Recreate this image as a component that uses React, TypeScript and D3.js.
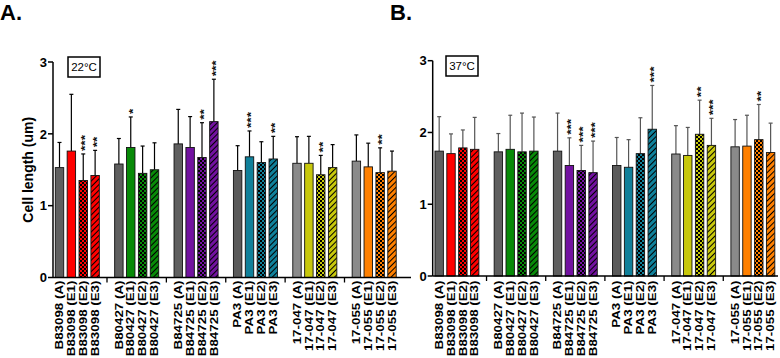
import React from "react";
import * as d3 from "d3";

const strains = ["B83098", "B80427", "B84725", "PA3", "17-047", "17-055"];
const variants = ["(A)", "(E1)", "(E2)", "(E3)"];
const colors = ["#ff0000", "#088a08", "#7212a0", "#10809a", "#c8c80c", "#ff8000"];
const grays = ["#5f5f5f", "#5f5f5f", "#5f5f5f", "#5a5a5a", "#8a8a8a", "#8a8a8a"];
const yTicks = [0, 1, 2, 3];

// Panel A (22°C)
const meanA = [
  [1.53, 1.76, 1.35, 1.42],
  [1.58, 1.81, 1.45, 1.5],
  [1.86, 1.81, 1.67, 2.17],
  [1.49, 1.68, 1.6, 1.65],
  [1.59, 1.59, 1.43, 1.53],
  [1.62, 1.54, 1.46, 1.48],
];
const sdA = [
  [0.35, 0.79, 0.37, 0.35],
  [0.355, 0.425, 0.38, 0.375],
  [0.48, 0.43, 0.485, 0.59],
  [0.345, 0.36, 0.29, 0.315],
  [0.37, 0.375, 0.27, 0.32],
  [0.365, 0.33, 0.345, 0.28],
];
const starsA = [
  ["", "", "***", "**"],
  ["", "*", "", ""],
  ["", "", "**", "***"],
  ["", "***", "", "**"],
  ["", "", "**", ""],
  ["", "", "**", ""],
];

// Panel B (37°C)
const meanB = [
  [1.74, 1.705, 1.785, 1.765],
  [1.73, 1.765, 1.73, 1.74],
  [1.74, 1.54, 1.47, 1.44],
  [1.54, 1.515, 1.705, 2.045],
  [1.7, 1.68, 1.975, 1.82],
  [1.8, 1.81, 1.9, 1.72],
];
const sdB = [
  [0.48, 0.275, 0.25, 0.445],
  [0.255, 0.475, 0.54, 0.475],
  [0.53, 0.385, 0.35, 0.44],
  [0.39, 0.385, 0.5, 0.61],
  [0.395, 0.39, 0.475, 0.377],
  [0.38, 0.43, 0.49, 0.41],
];
const starsB = [
  ["", "", "", ""],
  ["", "", "", ""],
  ["", "***", "***", "***"],
  ["", "", "", "***"],
  ["", "", "**", "***"],
  ["", "", "**", ""],
];

const FONT = "'Liberation Sans', Arial, Helvetica, sans-serif";

type PanelProps = {
  id: string;
  letter: string;
  letterX: number;
  temp: string;
  boxX: number;
  boxY: number;
  axisX: number;
  xStart: number;
  xEnd: number;
  axisEnd: number;
  y0: number;
  y3: number;
  means: number[][];
  sds: number[][];
  stars: string[][];
  errColor: string;
  yLabel: boolean;
};

function Panel(p: PanelProps) {
  const y = d3.scaleLinear().domain([0, 3]).range([p.y0, p.y3]);
  const slots = d3.range(29);
  const x = d3.scaleBand<number>().domain(slots).range([p.xStart, p.xEnd]).paddingInner(0.29).paddingOuter(0.15);
  const bw = x.bandwidth();
  const bars: any[] = [];
  strains.forEach((s, g) => {
    variants.forEach((v, i) => {
      bars.push({ g, i, s, v, slot: g * 5 + i, mean: p.means[g][i], sd: p.sds[g][i], star: p.stars[g][i] });
    });
  });
  const fillFor = (g: number, i: number) => {
    if (i === 0) return grays[g];
    if (i === 1) return colors[g];
    if (i === 2) return `url(#${p.id}chk${g})`;
    return `url(#${p.id}hat${g})`;
  };
  const gapTicks = [0, 1, 2, 3, 4].map((g) => x(g * 5 + 4)! + bw / 2);
  return (
    <g>
      <defs>
        {colors.map((c, g) => (
          <React.Fragment key={g}>
            <pattern id={`${p.id}chk${g}`} patternUnits="userSpaceOnUse" width={4} height={4}>
              <rect width={4} height={4} fill={c} />
              <rect width={2} height={2} fill="#000" />
              <rect x={2} y={2} width={2} height={2} fill="#000" />
            </pattern>
            <pattern id={`${p.id}hat${g}`} patternUnits="userSpaceOnUse" width={4} height={4} patternTransform="rotate(45)">
              <rect width={4} height={4} fill={c} />
              <line x1={0.5} y1={0} x2={0.5} y2={4} stroke="#000" strokeWidth={1} />
            </pattern>
          </React.Fragment>
        ))}
      </defs>
      <text x={p.letterX} y={20} fontFamily={FONT} fontWeight="bold" fontSize={22}>{p.letter}</text>
      {bars.map((b, k) => {
        const x0 = x(b.slot)!;
        const yt = y(b.mean);
        const ye = y(b.mean + b.sd);
        const xc = x0 + bw / 2;
        return (
          <g key={k}>
            <line x1={xc} x2={xc} y1={yt} y2={ye} stroke={p.errColor} strokeWidth={1.2} />
            <line x1={xc - 2} x2={xc + 2} y1={ye} y2={ye} stroke={p.errColor} strokeWidth={1.2} />
            <rect x={x0} y={yt} width={bw} height={p.y0 - yt} fill={fillFor(b.g, b.i)} stroke="#111" strokeWidth={0.9} />
            {b.star && (
              <text transform={`translate(${xc},${ye - 3}) rotate(-90) scale(1.3,1)`} dy="0.55em" fontFamily={FONT} fontWeight="bold" fontSize={10.5} fill="#111">{b.star}</text>
            )}
            <text transform={`translate(${xc},280.5) rotate(-90) scale(1.31,1)`} textAnchor="end" dy="0.36em" fontFamily={FONT} fontWeight="bold" fontSize={10.2} fill="#000">{`${b.s} ${b.v}`}</text>
          </g>
        );
      })}
      <line x1={p.axisX} x2={p.axisX} y1={p.y3} y2={p.y0} stroke="#000" strokeWidth={1.5} />
      <line x1={p.axisX} x2={p.axisEnd} y1={p.y0} y2={p.y0} stroke="#000" strokeWidth={1.5} />
      {yTicks.map((t) => (
        <g key={t}>
          <line x1={p.axisX - 5} x2={p.axisX} y1={y(t)} y2={y(t)} stroke="#000" strokeWidth={1.5} />
          <text x={p.axisX - 6} y={y(t)} dy="0.36em" textAnchor="end" fontFamily={FONT} fontWeight="bold" fontSize={13}>{t}</text>
        </g>
      ))}
      {gapTicks.map((gx, k) => (
        <line key={k} x1={gx} x2={gx} y1={p.y0} y2={p.y0 + 5} stroke="#000" strokeWidth={1.3} />
      ))}
      <rect x={p.boxX} y={p.boxY} width={32} height={20} fill="#fff" stroke="#000" strokeWidth={1.5} />
      <text x={p.boxX + 16} y={p.boxY + 10} dy="0.36em" textAnchor="middle" fontFamily={FONT} fontSize={11.5}>{p.temp}</text>
      {p.yLabel && (
        <text transform={`translate(28,${(p.y0 + p.y3) / 2}) rotate(-90)`} textAnchor="middle" dy="0.36em" fontFamily={FONT} fontWeight="bold" fontSize={14}>Cell length (um)</text>
      )}
    </g>
  );
}

export default function App() {
  return (
    <svg width={780} height={358} style={{ position: "absolute", left: 0, top: 0, background: "#fff" }}>
      <rect width={780} height={358} fill="#fff" />
      <Panel id="A" letter="A." letterX={0} temp="22°C" boxX={68} boxY={57} axisX={53} xStart={53.5} xEnd={398} axisEnd={411} y0={277.5} y3={62} means={meanA} sds={sdA} stars={starsA} errColor="#000" yLabel={true} />
      <Panel id="B" letter="B." letterX={390} temp="37°C" boxX={446} boxY={56} axisX={432.7} xStart={433.2} xEnd={776.6} axisEnd={778} y0={276} y3={60.7} means={meanB} sds={sdB} stars={starsB} errColor="#555" yLabel={false} />
    </svg>
  );
}
